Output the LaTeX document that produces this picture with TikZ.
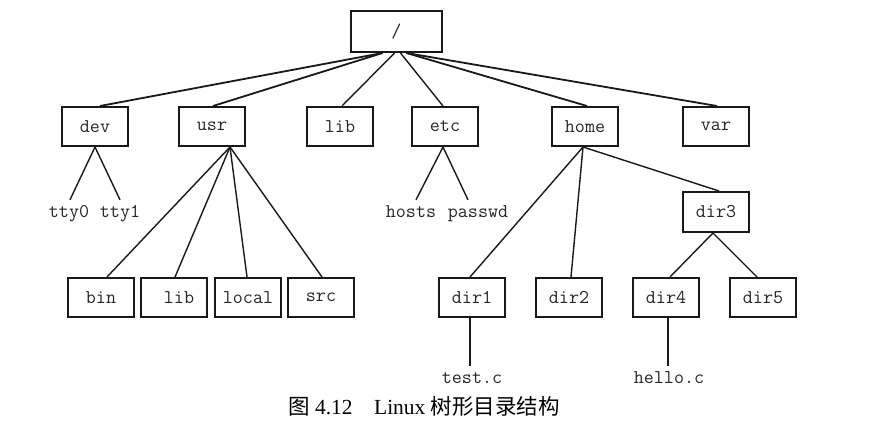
\documentclass[tikz,border=0pt]{standalone}
\usepackage{fontspec}
\setmainfont{Liberation Serif}
\newfontfamily\cjk{Noto Sans CJK SC}
\begin{document}
\begin{tikzpicture}[x=1pt,y=-1pt,
  dirbox/.style={draw=black!90, line width=2pt, minimum width=66pt, minimum height=39pt,
    inner sep=0pt, font=\ttfamily\fontsize{19.5}{22}\selectfont, text=black!85},
  leaf/.style={anchor=base, inner sep=4pt, text height=13pt, text depth=4pt,
    font=\ttfamily\fontsize{19.5}{22}\selectfont, text=black!85},
  edge/.style={draw=black!90, line width=1.4pt},
  thick edge/.style={draw=black!90, line width=1.8pt}]
\useasboundingbox (0,0) rectangle (885,428);
% nodes
\node[dirbox, minimum width=91pt, minimum height=41pt] (root) at (396.5,31.5) {/};
\node[dirbox] (dev)  at (95,126.5)  {dev};
\node[dirbox] (usr)  at (212,126.5) {usr};
\node[dirbox] (lib)  at (340,126.5) {lib};
\node[dirbox] (etc)  at (445,126.5) {etc};
\node[dirbox] (home) at (585,126.5) {home};
\node[dirbox] (var)  at (716,126.5) {var};
\node[dirbox] (bin)   at (101,297.5) {bin};
\node[dirbox] (ulib)  at (174,297.5) {\hspace*{10pt}lib};
\node[dirbox] (local) at (248,297.5) {local};
\node[dirbox] (src)   at (321,297.5) {src};
\node[dirbox] (dir1)  at (472,297.5) {dir1};
\node[dirbox] (dir2)  at (569,297.5) {dir2};
\node[dirbox, minimum height=40pt] (dir3)  at (716,212) {dir3};
\node[dirbox] (dir4)  at (666,297.5) {dir4};
\node[dirbox] (dir5)  at (763,297.5) {dir5};
\node[leaf] (tty0)   at (69,217)  {tty0};
\node[leaf] (tty1)   at (120,217) {tty1};
\node[leaf] (hosts)  at (411,217) {hosts};
\node[leaf] (passwd) at (478,217) {passwd};
\node[leaf] (testc)  at (472,383) {test.c};
\node[leaf] (helloc) at (669,383) {hello.c};
% root edges
\draw[thick edge] ([xshift=-14pt]root.south) -- ([xshift=5pt]dev.north);
\draw[thick edge] ([xshift=-14pt]root.south) -- ([xshift=1pt]usr.north);
\draw[edge] ([xshift=-2pt]root.south) -- ([xshift=2pt]lib.north);
\draw[edge] ([xshift=4pt]root.south) -- ([xshift=-2pt]etc.north);
\draw[thick edge] ([xshift=10pt]root.south) -- ([xshift=2pt]home.north);
\draw[thick edge] ([xshift=10pt]root.south) -- ([xshift=1pt]var.north);
% dev
\draw[edge] (dev.south) -- ([xshift=1pt]tty0.north);
\draw[edge] (dev.south) -- (tty1.north);
% usr
\draw[edge] ([xshift=18pt]usr.south) -- ([xshift=6pt]bin.north);
\draw[edge] ([xshift=18pt]usr.south) -- ([xshift=1pt]ulib.north);
\draw[edge] ([xshift=18pt]usr.south) -- ([xshift=-1pt]local.north);
\draw[edge] ([xshift=18pt]usr.south) -- ([xshift=1pt]src.north);
% etc
\draw[edge] ([xshift=-2pt]etc.south) -- ([xshift=5pt]hosts.north);
\draw[edge] ([xshift=-2pt]etc.south) -- ([xshift=-10pt]passwd.north);
% home
\draw[edge] ([xshift=-2pt]home.south) -- ([xshift=-2pt]dir1.north);
\draw[edge] ([xshift=-2pt]home.south) -- ([xshift=2pt]dir2.north);
\draw[edge] ([xshift=-2pt]home.south) -- ([xshift=3pt]dir3.north);
% dir3
\draw[edge] ([xshift=-3pt]dir3.south) -- ([xshift=4pt]dir4.north);
\draw[edge] ([xshift=-3pt]dir3.south) -- ([xshift=-6pt]dir5.north);
% files
\draw[edge] ([xshift=-2pt]dir1.south) -- ([xshift=-2pt]testc.north);
\draw[edge] ([xshift=2pt]dir4.south) -- ([xshift=-1pt]helloc.north);
% caption
\node[inner sep=0pt, font=\fontsize{21.5}{24}\selectfont] (caption) at (424,406)
  {{\cjk 图} 4.12\quad Linux {\cjk 树形目录结构}};
\end{tikzpicture}
\end{document}
